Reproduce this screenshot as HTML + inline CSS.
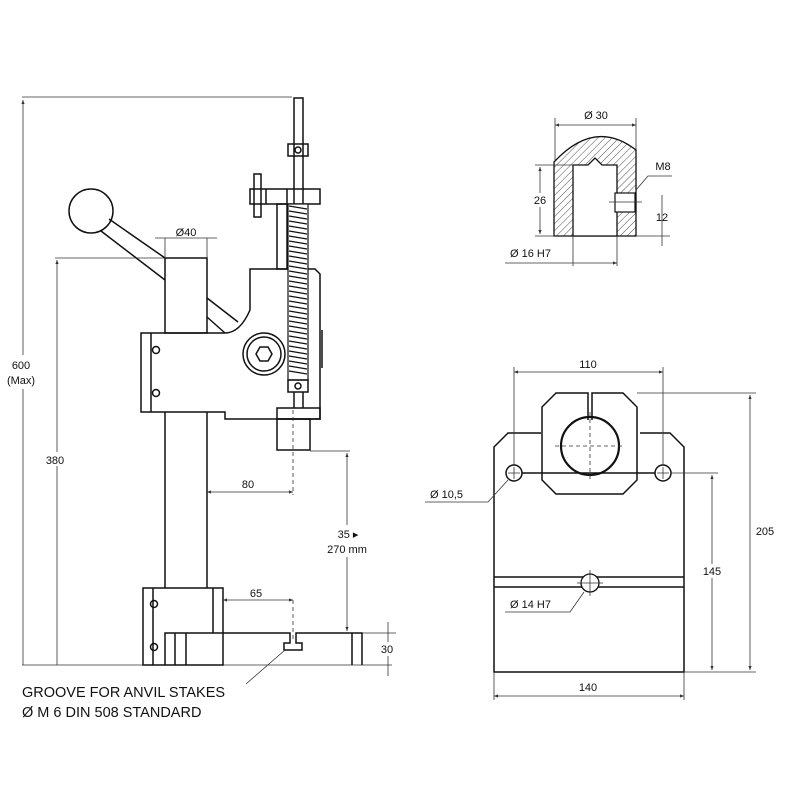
<!DOCTYPE html>
<html><head><meta charset="utf-8"><style>
html,body{margin:0;padding:0;background:#fff}
svg{display:block}
text{font-family:"Liberation Sans",sans-serif;fill:#111}
.o{fill:none;stroke:#111;stroke-width:1.5}
.d{fill:none;stroke:#333;stroke-width:0.8}
.da{fill:none;stroke:#333;stroke-width:0.8;stroke-dasharray:4 3}
</style></head><body>
<svg width="800" height="800" viewBox="0 0 800 800" xmlns="http://www.w3.org/2000/svg">
<defs>
<marker id="a" markerWidth="6" markerHeight="6" refX="5" refY="3" orient="auto-start-reverse"><path d="M0,1 L5,3 L0,5Z" fill="#333"/></marker>
<pattern id="h" width="5" height="5" patternUnits="userSpaceOnUse" patternTransform="rotate(45)"><line x1="0" y1="0" x2="0" y2="5" stroke="#222" stroke-width="0.8"/></pattern>
</defs>

<!-- LEFT: dimension lines -->
<line class="d" x1="22" y1="97" x2="292" y2="97"/>
<line class="d" x1="23" y1="100" x2="23" y2="665" marker-start="url(#a)"/>
<line class="d" x1="22" y1="665" x2="392" y2="665"/>
<line class="d" x1="55" y1="258" x2="165" y2="258"/>
<line class="d" x1="57" y1="260" x2="57" y2="665" marker-start="url(#a)"/>
<rect x="5" y="355" width="36" height="34" fill="#fff"/>
<text x="21" y="369" font-size="11" text-anchor="middle">600</text>
<text x="21" y="384" font-size="11" text-anchor="middle">(Max)</text>
<rect x="40" y="452" width="30" height="14" fill="#fff"/>
<text x="55" y="464" font-size="11" text-anchor="middle">380</text>

<!-- handle -->
<circle class="o" cx="91" cy="211" r="22"/>
<path class="o" d="M109,219 L165,258 M101,231 L165,280"/>
<path class="o" d="M207,298 L238,322 M207,317 L225,333"/>
<!-- column -->
<rect class="o" x="165" y="258" width="42" height="75"/>
<line class="o" x1="165" y1="412" x2="165" y2="588"/>
<line class="o" x1="207" y1="412" x2="207" y2="588"/>
<!-- Ø40 -->
<line class="d" x1="155" y1="238" x2="217" y2="238"/>
<line class="d" x1="165" y1="238" x2="165" y2="258"/>
<line class="d" x1="207" y1="238" x2="207" y2="258"/>
<text x="186" y="236" font-size="11" text-anchor="middle">Ø40</text>

<!-- main body -->
<path class="o" d="M141,333 L225,333 Q240,333 250,310 L250,269 L315,269 L320,274 L320,419 L225,419 L225,412 L141,412 Z"/>
<line class="o" x1="151" y1="333" x2="151" y2="412"/>
<circle class="o" cx="156" cy="350" r="3.5"/>
<circle class="o" cx="156" cy="393" r="3.5"/>
<circle class="o" cx="264" cy="354" r="21"/>
<circle class="o" cx="264" cy="354" r="17"/>
<polygon class="o" points="272,354 268,361 260,361 256,354 260,347 268,347"/>
<line class="o" x1="322" y1="330" x2="322" y2="368"/>
<!-- shaft and spring -->
<rect class="o" x="294" y="98" width="9" height="110"/>
<rect class="o" x="288" y="144" width="20" height="12"/>
<circle class="o" cx="298" cy="150" r="3"/>
<rect class="o" x="250" y="189" width="70" height="15"/>
<line class="o" x1="287" y1="189" x2="287" y2="204"/>
<line class="o" x1="266" y1="189" x2="266" y2="204"/>
<rect class="o" x="254" y="174" width="7" height="43"/>
<rect class="o" x="277" y="204" width="10" height="65"/>
<rect x="288" y="204" width="20" height="176" fill="#fff" stroke="#111" stroke-width="1.2"/>
<path fill="none" stroke="#111" stroke-width="1.3" d="M289,206 L307,209 M289,211 L307,214 M289,216 L307,219 M289,221 L307,224 M289,226 L307,229 M289,231 L307,234 M289,236 L307,239 M289,241 L307,244 M289,246 L307,249 M289,251 L307,254 M289,256 L307,259 M289,261 L307,264 M289,266 L307,269 M289,271 L307,274 M289,276 L307,279 M289,281 L307,284 M289,286 L307,289 M289,291 L307,294 M289,296 L307,299 M289,301 L307,304 M289,306 L307,309 M289,311 L307,314 M289,316 L307,319 M289,321 L307,324 M289,326 L307,329 M289,331 L307,334 M289,336 L307,339 M289,341 L307,344 M289,346 L307,349 M289,351 L307,354 M289,356 L307,359 M289,361 L307,364 M289,366 L307,369 M289,371 L307,374"/>
<rect class="o" x="288" y="380" width="20" height="12"/>
<circle class="o" cx="298" cy="386" r="3"/>
<line class="o" x1="294" y1="392" x2="294" y2="408"/>
<line class="o" x1="303" y1="392" x2="303" y2="408"/>
<rect class="o" x="277" y="408" width="43" height="11"/>
<rect class="o" x="277" y="419" width="33" height="31"/>
<line class="da" x1="293" y1="410" x2="293" y2="495"/>
<line class="d" x1="310" y1="451" x2="350" y2="451"/>
<!-- 80 -->
<line class="d" x1="207" y1="492" x2="293" y2="492" marker-start="url(#a)" marker-end="url(#a)"/>
<text x="248" y="488" font-size="11" text-anchor="middle">80</text>
<!-- 35-270 -->
<line class="d" x1="347" y1="453" x2="347" y2="631" marker-start="url(#a)" marker-end="url(#a)"/>
<rect x="322" y="525" width="52" height="32" fill="#fff"/>
<text x="348" y="538" font-size="11" text-anchor="middle">35 ▸</text>
<text x="347" y="553" font-size="11" text-anchor="middle">270 mm</text>

<!-- base -->
<rect class="o" x="143" y="588" width="80" height="77"/>
<line class="o" x1="153" y1="588" x2="153" y2="665"/>
<line class="o" x1="213" y1="588" x2="213" y2="633"/>
<circle class="o" cx="154" cy="604" r="3.5" fill="#fff"/>
<circle class="o" cx="154" cy="647" r="3.5" fill="#fff"/>
<path class="o" d="M165,665 L165,633 L290,633 L290,643 L284,643 L284,650 L302,650 L302,643 L296,643 L296,633 L362,633 L362,665"/>
<line class="o" x1="175" y1="633" x2="175" y2="665"/>
<line class="o" x1="186" y1="633" x2="186" y2="665"/>
<line class="o" x1="352" y1="633" x2="352" y2="665"/>
<line class="da" x1="293" y1="600" x2="293" y2="640"/>
<!-- 65 -->
<line class="d" x1="223" y1="600" x2="293" y2="600" marker-start="url(#a)" marker-end="url(#a)"/>
<text x="256" y="597" font-size="11" text-anchor="middle">65</text>
<!-- 30 -->
<line class="d" x1="362" y1="633" x2="396" y2="633"/>
<line class="d" x1="388" y1="622" x2="388" y2="676"/>
<rect x="378" y="642" width="20" height="14" fill="#fff"/>
<text x="387" y="653" font-size="11" text-anchor="middle">30</text>
<!-- groove leader -->
<path class="d" d="M285,650 L246,684"/>
<text x="22" y="697" font-size="14.5">GROOVE FOR ANVIL STAKES</text>
<text x="22" y="717" font-size="14.5">Ø M 6 DIN 508 STANDARD</text>

<!-- TOP RIGHT: cap -->
<line class="d" x1="555" y1="118" x2="555" y2="160"/>
<line class="d" x1="636" y1="118" x2="636" y2="150"/>
<line class="d" x1="555" y1="125" x2="636" y2="125" marker-start="url(#a)" marker-end="url(#a)"/>
<text x="596" y="119" font-size="11" text-anchor="middle">Ø 30</text>
<path d="M554,162 Q595,118 636,150 L636,236 L554,236 Z" fill="url(#h)" stroke="#111" stroke-width="1.3"/>
<path d="M573,236 L573,165 L588,165 L595,158 L602,165 L617,165 L617,236 Z" fill="#fff" stroke="#111" stroke-width="1.3"/>
<rect x="615" y="193" width="20" height="19" fill="#fff" stroke="#111" stroke-width="1.2"/>
<line class="d" x1="609" y1="202" x2="642" y2="202"/>
<line class="d" x1="535" y1="165" x2="573" y2="165"/>
<line class="d" x1="535" y1="236" x2="555" y2="236"/>
<line class="d" x1="540" y1="167" x2="540" y2="234" marker-start="url(#a)" marker-end="url(#a)"/>
<rect x="530" y="193" width="20" height="14" fill="#fff"/>
<text x="540" y="204" font-size="11" text-anchor="middle">26</text>
<path class="d" d="M636,190 L648,176 L672,176"/>
<text x="663" y="170" font-size="11" text-anchor="middle">M8</text>
<line class="d" x1="636" y1="236" x2="670" y2="236"/>
<line class="d" x1="662" y1="195" x2="662" y2="246"/>
<text x="662" y="221" font-size="11" text-anchor="middle">12</text>
<line class="d" x1="573" y1="236" x2="573" y2="266"/>
<line class="d" x1="617" y1="236" x2="617" y2="266"/>
<line class="d" x1="505" y1="263" x2="617" y2="263" marker-end="url(#a)"/>
<text x="510" y="257" font-size="11">Ø 16 H7</text>

<!-- BOTTOM RIGHT: plate -->
<path class="o" d="M541,433 L508,433 L494,447 L494,672 L684,672 L684,447 L670,433 L640,433"/>
<path class="o" d="M588,420 L588,393 L556,393 L542,407 L542,480 L556,494 L623,494 L637,480 L637,407 L623,393 L592,393 L592,420"/>
<circle cx="590" cy="446" r="29" fill="none" stroke="#111" stroke-width="2.2"/>
<line class="da" x1="555" y1="446" x2="625" y2="446"/>
<line class="da" x1="590" y1="412" x2="590" y2="480"/>
<line class="o" x1="522" y1="473" x2="655" y2="473" stroke-width="1.1"/>
<circle class="o" cx="514" cy="473" r="8"/>
<circle class="o" cx="663" cy="473" r="8"/>
<path class="d" d="M508,473 L520,473 M514,467 L514,479 M657,473 L669,473 M663,467 L663,479"/>
<line class="o" x1="494" y1="577" x2="684" y2="577"/>
<line class="o" x1="494" y1="587" x2="684" y2="587"/>
<circle cx="590" cy="583" r="9" fill="#fff" stroke="#111" stroke-width="1.3"/>
<path class="d" d="M577,583 L603,583 M590,570 L590,596"/>
<!-- dims -->
<line class="d" x1="514" y1="367" x2="514" y2="465"/>
<line class="d" x1="663" y1="367" x2="663" y2="465"/>
<line class="d" x1="514" y1="372" x2="663" y2="372" marker-start="url(#a)" marker-end="url(#a)"/>
<text x="588" y="368" font-size="11" text-anchor="middle">110</text>
<line class="d" x1="637" y1="393" x2="756" y2="393"/>
<line class="d" x1="684" y1="672" x2="756" y2="672"/>
<line class="d" x1="750" y1="395" x2="750" y2="670" marker-start="url(#a)" marker-end="url(#a)"/>
<rect x="752" y="524" width="26" height="14" fill="#fff"/>
<text x="765" y="535" font-size="11" text-anchor="middle">205</text>
<line class="d" x1="671" y1="473" x2="718" y2="473"/>
<line class="d" x1="712" y1="475" x2="712" y2="670" marker-start="url(#a)" marker-end="url(#a)"/>
<rect x="699" y="564" width="26" height="14" fill="#fff"/>
<text x="712" y="575" font-size="11" text-anchor="middle">145</text>
<line class="d" x1="494" y1="672" x2="494" y2="700"/>
<line class="d" x1="684" y1="672" x2="684" y2="700"/>
<line class="d" x1="494" y1="696" x2="684" y2="696" marker-start="url(#a)" marker-end="url(#a)"/>
<text x="588" y="691" font-size="11" text-anchor="middle">140</text>
<path class="d" d="M508,480 L488,502 L425,502"/>
<text x="430" y="498" font-size="11">Ø 10,5</text>
<path class="d" d="M584,592 L570,612 L505,612"/>
<text x="510" y="608" font-size="11">Ø 14 H7</text>
</svg>
</body></html>
